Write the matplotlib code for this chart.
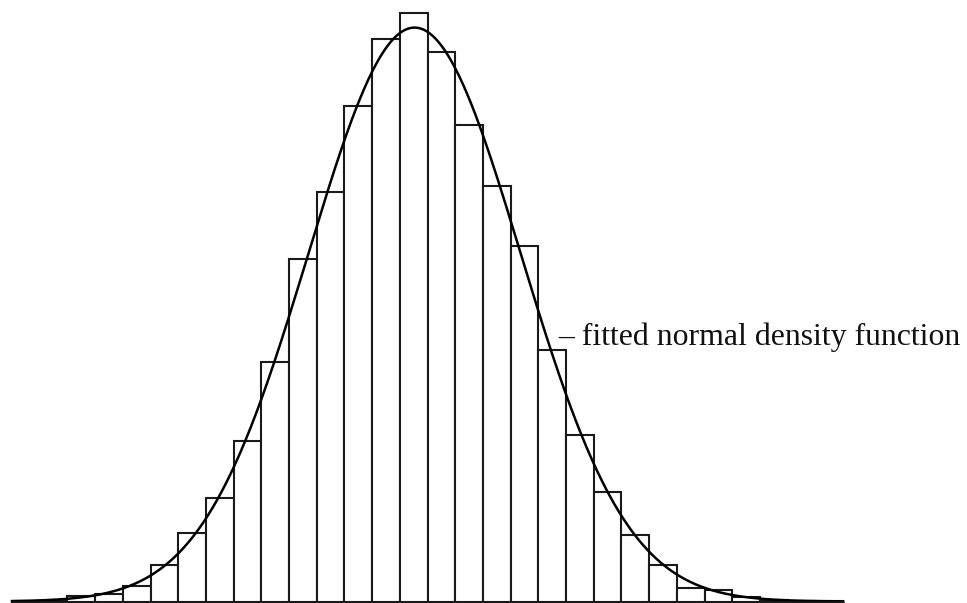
import numpy as np
import matplotlib
matplotlib.use("Agg")
import matplotlib.pyplot as plt

# bar heights (30 equal bins)
counts = [0.5, 1, 6, 8, 16, 37, 69, 104, 161, 240,
          343, 410, 496, 563, 589, 550, 477, 416, 356, 252,
          167, 110, 67, 37, 14, 12, 5, 2, 1, 0.5]
bin_edges = np.arange(len(counts) + 1)
label_text = "\u2013 fitted normal density function"

counts = np.array(counts, dtype=float)
centers = (bin_edges[:-1] + bin_edges[1:]) / 2
width = bin_edges[1] - bin_edges[0]

# normal fit from the binned data
n = counts.sum()
mu = (counts * centers).sum() / n
sigma = np.sqrt((counts * (centers - mu) ** 2).sum() / n)
xs = np.linspace(bin_edges[0], bin_edges[-1], 600)
ys = n * width / (sigma * np.sqrt(2 * np.pi)) * np.exp(-0.5 * ((xs - mu) / sigma) ** 2)

W, H = 967, 603
fig = plt.figure(figsize=(W / 100, H / 100), dpi=100)
ax = fig.add_axes([12 / W, (H - 601.5) / H, 831 / W, 601.5 / H])

ax.bar(bin_edges[:-1], counts, width=width, align='edge',
       facecolor='white', edgecolor='#1a1a1a', linewidth=1.5, clip_on=False)
ax.plot(xs, ys, color='black', linewidth=1.8, clip_on=False)
ax.axhline(0, color='#1a1a1a', linewidth=1.8, clip_on=False)

ax.set_xlim(bin_edges[0], bin_edges[-1])
ax.set_ylim(0, 601.5)
ax.axis('off')

fig.text(558 / W, 1 - 345 / H, label_text, fontsize=22.9,
         family=['Liberation Serif', 'DejaVu Serif'], color='#111111',
         ha='left', va='baseline')

fig.savefig("out.png", dpi=100, facecolor='white')
